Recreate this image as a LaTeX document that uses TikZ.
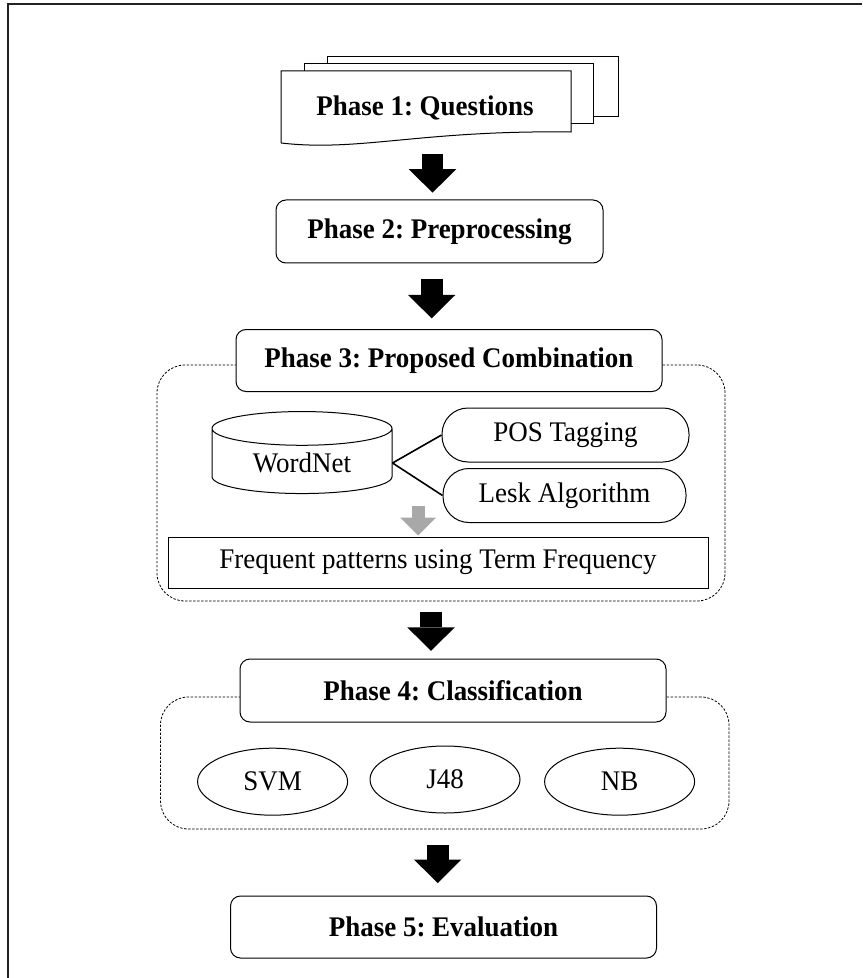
\documentclass[tikz,border=0pt]{standalone}
\usepackage{fontspec}
\setmainfont{Liberation Serif}[FakeStretch=0.95]
\usetikzlibrary{arrows.meta,calc,positioning,shapes.geometric}
\definecolor{frameline}{HTML}{222222}
\definecolor{hintgray}{HTML}{A8A8A8}
\frenchspacing

\begin{document}
\begin{tikzpicture}[x=0.5pt,y=-0.5pt,
      font=\fontsize{14.2}{17}\selectfont,
      phase/.style={draw,fill=white,rounded corners=5pt,minimum width=213pt,minimum height=31pt,line width=0.5pt,font=\fontsize{14.2}{17}\selectfont\bfseries},
      group/.style={draw,dash pattern=on 1.2pt off 0.8pt,rounded corners=14pt,line width=0.4pt},
      pill/.style={draw,rounded corners=13pt,minimum width=123.5pt,minimum height=27pt,line width=0.5pt},
      algo/.style={draw,ellipse,minimum width=75pt,minimum height=33.5pt,line width=0.5pt},
      page/.style={draw,fill=white,line width=0.5pt},
      bigarrow/.style={line width=10.8pt,-{Triangle[length=11.8pt,width=23.75pt,line width=0pt]}},
      hint/.style={line width=6.5pt,color=hintgray,-{Triangle[length=9pt,width=18pt,line width=0pt]}}
    ]
      \useasboundingbox (0,0) rectangle (862,978);
      \draw[line width=0.6pt,frameline] (8,978) -- (8,4) -- (862,4);

      % phase 1: stack of pages
      \draw[page] (327,117) rectangle (618,57);
      \draw[page] (304,124) rectangle (593,64);
      \draw[page] (281,143) -- (281,71) -- (571,71) -- (571,132) .. controls (420,130) and (360,152) .. (281,143);
      \node[font=\fontsize{14.2}{17}\selectfont\bfseries] (p1) at (425,108) {Phase 1: Questions};

      % groups
      \node[group,minimum width=284pt,minimum height=118pt] (g3) at (441,483) {};
      \node[group,minimum width=284.25pt,minimum height=66pt] (g4) at (444.75,763) {};

      \node[phase,minimum width=163.5pt,minimum height=31.5pt] (p2) at (439.5,231.5) {Phase 2: Preprocessing};
      \node[phase] (p3) at (449,360.5) {Phase 3: Proposed Combination};
      \node[phase,minimum height=31.5pt] (p4) at (453,690.5) {Phase 4: Classification};
      \node[phase] (p5) at (443.5,927) {Phase 5: Evaluation};

      % phase 3 content
      \node[cylinder,shape border rotate=90,aspect=0.33,draw,line width=0.5pt,minimum width=90pt,minimum height=41pt,inner sep=1pt] (wn) at (302,463) {WordNet};
      \node[pill] (pos) at (565.5,435) {POS Tagging};
      \node[pill,minimum width=121.5pt] (lesk) at (564.5,495.5) {Lesk Algorithm};
      \node[draw,line width=0.5pt,minimum width=270pt,minimum height=25.5pt] (freq) at (438,562.5) {Frequent patterns using Term Frequency};
      \draw[line width=0.8pt] (wn.east) -- (pos.west);
      \draw[line width=0.8pt] (wn.east) -- (lesk.west);
      \coordinate (h1) at (418,506);
      \draw[hint,shorten >=0.5pt] (h1) -- (h1 |- freq.north);

      % phase 4 content
      \node[algo] (svm) at (272.6,781.7) {SVM};
      \node[algo] (j48) at (445,779.5) {J48};
      \node[algo] (nb) at (619.6,781.7) {NB};

      % block arrows
      \coordinate (a1) at (432.5,154);
      \coordinate (a2) at (431.7,279);
      \coordinate (a3) at (431,611.7);
      \coordinate (a4) at (437.7,845);
      \draw[bigarrow,shorten >=3.4pt] (a1) -- (a1 |- p2.north);
      \draw[bigarrow,shorten >=5.3pt] (a2) -- (a2 |- p3.north);
      \draw[bigarrow,shorten >=3.8pt] (a3) -- (a3 |- p4.north);
      \draw[bigarrow,shorten >=6.2pt] (a4) -- (a4 |- p5.north);
    \end{tikzpicture}
\end{document}
